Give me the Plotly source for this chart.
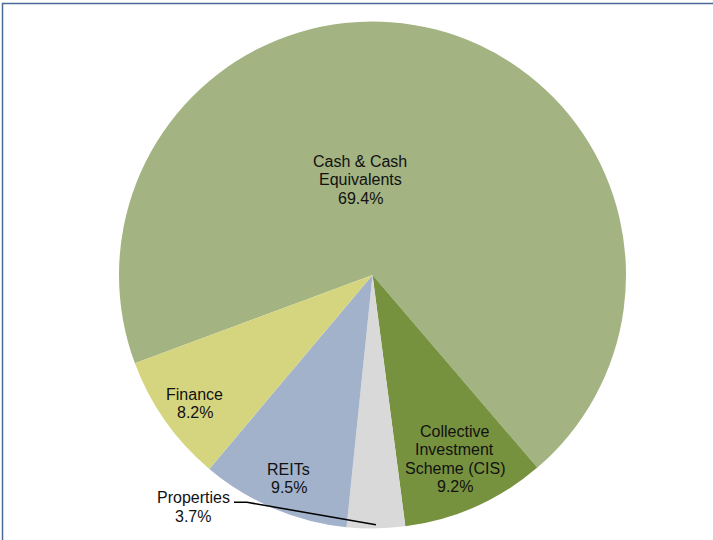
import math
import plotly.graph_objects as go

# ---- data ----
labels = ["Cash & Cash Equivalents", "Collective Investment Scheme (CIS)",
          "Properties", "REITs", "Finance"]
values = [69.4, 9.2, 3.7, 9.5, 8.2]
label_lines = [["Cash & Cash", "Equivalents"],
               ["Collective", "Investment", "Scheme (CIS)"],
               ["Properties"],
               ["REITs"],
               ["Finance"]]
colors = ["#A3B381", "#77923E", "#D9D9D9", "#A1B2CA", "#D6D57F"]

# ---- layout geometry (pixels) ----
W, H = 713, 540
cx, cy, R = 372.5, 275.0, 253.5
rotation = 249.6
# label anchor (x centre, y centre of first line) in pixels
label_pos = [(360, 161.5), (454.5, 431.5), (193, 497.7), (288.5, 469.5), (194.5, 394)]
line_gap = 18.3
font = dict(family="Liberation Sans, Arial, sans-serif", size=16, color="#111111")

fig = go.Figure(go.Pie(
    labels=labels, values=values, sort=False, direction="clockwise",
    rotation=rotation, textinfo="none", hoverinfo="label+percent",
    marker=dict(colors=colors, line=dict(width=0)),
    domain=dict(x=[(cx - R) / W, (cx + R) / W], y=[1 - (cy + R) / H, 1 - (cy - R) / H]),
    showlegend=False,
))

annotations = []
for lines, v, (px, py) in zip(label_lines, values, label_pos):
    all_lines = lines + [f"{v:.1f}%"]
    for i, t in enumerate(all_lines):
        annotations.append(dict(
            x=px / W, y=1 - (py + i * line_gap) / H, xref="paper", yref="paper",
            text=t, showarrow=False, xanchor="center", yanchor="middle", font=font))

# leader line for Properties, end point derived from the slice's mid angle
total = sum(values)
cum = sum(values[:2]) + values[2] / 2
ang = math.radians(rotation + 360 * cum / total)
ex = cx + 0.985 * R * math.sin(ang)
ey = cy - 0.985 * R * math.cos(ang)
pts = [(234, 502.3), (247, 502.3), (ex, ey)]
path = "M " + " L ".join(f"{x / W:.5f},{1 - y / H:.5f}" for x, y in pts)

shapes = [
    dict(type="path", xref="paper", yref="paper", path=path,
         line=dict(color="black", width=1.5)),
    dict(type="rect", xref="paper", yref="paper",
         x0=2.5 / W, x1=1.05, y0=-0.05, y1=1 - 3.5 / H,
         line=dict(color="#4A6898", width=1.5), fillcolor="rgba(0,0,0,0)"),
]

fig.update_layout(
    width=W, height=H, margin=dict(l=0, r=0, t=0, b=0),
    paper_bgcolor="white", plot_bgcolor="white",
    annotations=annotations, shapes=shapes,
)

fig.write_html("out.html")
